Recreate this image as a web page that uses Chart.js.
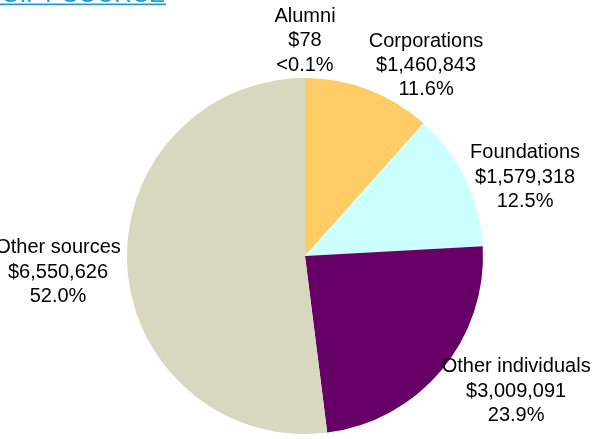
<!DOCTYPE html>
<html>
<head>
<meta charset="utf-8">
<script src="https://cdn.jsdelivr.net/npm/chart.js@4.4.0/dist/chart.umd.min.js"></script>
<style>
    html, body { margin: 0; padding: 0; background: #ffffff; }
    #wrap { position: relative; width: 592px; height: 439px; }
</style>
</head>
<body>
<div id="wrap"><canvas id="gift_chart" width="592" height="439"></canvas></div>
<script>
// data
const titleText = "GIFT SOURCE";
const categories = ["Alumni", "Corporations", "Foundations", "Other individuals", "Other sources"];
const giftAmounts = [78, 1460843, 1579318, 3009091, 6550626];
const sliceColors = ["#FFCC66", "#FFCC66", "#CCFFFF", "#660066", "#D8D8C0"];

// where each label sits, relative to its slice (turn in degrees, reach in outer radii)
const labelTurn = [0, 12.3, 7.3, -6.2, -1.45];
const labelReach = [1.177, 1.243, 1.303, 1.425, 1.393];

const total = giftAmounts.reduce((a, b) => a + b, 0);

function pctText(v) {
    const p = v / total * 100;
    if (p < 0.1) return "<0.1%";
    return p.toFixed(1) + "%";
}

const labelPlugin = {
    id: "sliceLabels",
    afterDraw(chart) {
        const ctx = chart.ctx;
        const meta = chart.getDatasetMeta(0);
        ctx.save();
        ctx.font = '20px "Liberation Sans", Arial, sans-serif';
        ctx.fillStyle = "#000000";
        ctx.textAlign = "center";
        ctx.textBaseline = "alphabetic";
        const lineH = 24.3;
        meta.data.forEach((arc, i) => {
            const mid = (arc.startAngle + arc.endAngle) / 2 + labelTurn[i] * Math.PI / 180;
            const r = arc.outerRadius * labelReach[i];
            const x = arc.x + Math.cos(mid) * r;
            const y = arc.y + Math.sin(mid) * r;
            const lines = [
                categories[i],
                "$" + giftAmounts[i].toLocaleString("en-US"),
                pctText(giftAmounts[i])
            ];
            lines.forEach((t, j) => ctx.fillText(t, x, y + (j - 1) * lineH));
        });

        // cut off heading at the top
        ctx.font = '24px "Liberation Sans", Arial, sans-serif';
        ctx.fillStyle = "#1E9BD7";
        ctx.textAlign = "left";
        ctx.fillText(titleText, 1, 2);
        const w = ctx.measureText(titleText).width;
        ctx.fillRect(0, 3.5, w + 2, 1.7);
        ctx.restore();
    }
};

new Chart(document.getElementById("gift_chart"), {
    type: "pie",
    data: {
        labels: categories,
        datasets: [{
            data: giftAmounts,
            backgroundColor: sliceColors,
            borderWidth: 0
        }]
    },
    options: {
        responsive: false,
        animation: false,
        layout: { padding: { left: 127, right: 109, top: 78, bottom: 5 } },
        plugins: {
            legend: { display: false },
            tooltip: { enabled: false },
            title: { display: false }
        }
    },
    plugins: [labelPlugin]
});
</script>
</body>
</html>
